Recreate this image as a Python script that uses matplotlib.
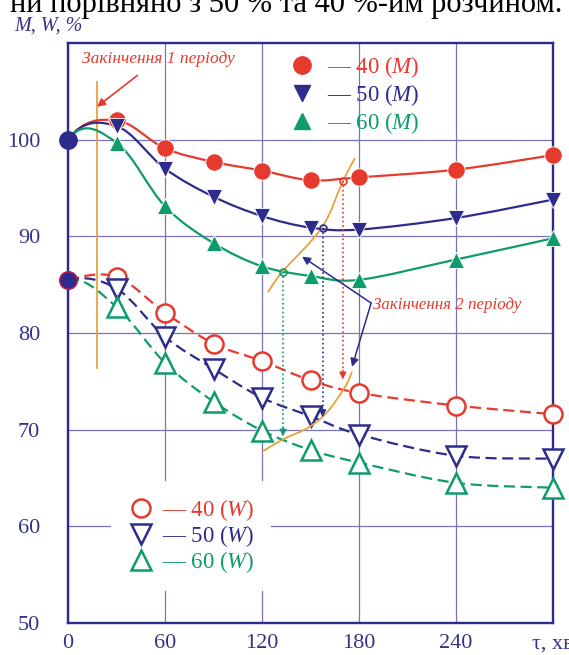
import matplotlib
matplotlib.use("Agg")
import matplotlib.pyplot as plt
from matplotlib.path import Path
from matplotlib.patches import PathPatch
from matplotlib.lines import Line2D

plt.rcParams['font.family'] = ['Liberation Serif', 'DejaVu Serif']
plt.rcParams['mathtext.fontset'] = 'custom'
plt.rcParams['mathtext.it'] = 'Liberation Serif:italic'
plt.rcParams['mathtext.rm'] = 'Liberation Serif'

# time, min
tau = [0, 30, 60, 90, 120, 150, 180, 240, 300]

# M curves (filled markers)
m40 = [100, 102.0, 99.1, 97.7, 96.8, 95.8, 96.1, 96.9, 98.4]
m50 = [100, 101.4, 97.0, 94.1, 92.1, 90.9, 90.7, 91.9, 93.8]
m60 = [100, 99.7, 93.1, 89.3, 86.9, 85.9, 85.5, 87.6, 89.8]

# W curves (open markers)
w40 = [85.5, 85.8, 82.1, 78.9, 77.1, 75.1, 73.8, 72.5, 71.6]
w50 = [85.5, 84.6, 79.6, 76.3, 73.3, 71.4, 69.5, 67.3, 67.0]
w60 = [85.5, 82.7, 76.9, 72.9, 69.9, 67.9, 66.6, 64.5, 64.0]

# end of period 2 (orange lines) and the projections
end2_upper_x = [123.7, 132.4, 157.0, 170.0, 177.5]
end2_upper_y = [84.2, 86.3, 90.9, 95.7, 98.1]
end2_lower_x = [120, 133, 148.5, 160.2, 171.3, 175.7]
end2_lower_y = [67.7, 69.0, 70.2, 71.8, 74.4, 76.0]
proj_x = [133, 157.5, 170]
proj_top = [86.3, 90.9, 95.7]
proj_bottom = [69.3, 71.3, 75.2]

xticks = [0, 60, 120, 180, 240, 300]
xlabels = ['0', '60', '120', '180', '240', 'τ, хв']
yticks = [50, 60, 70, 80, 90, 100]

RED = '#e63a2e'
NAVY = '#2d2c8c'
GREEN = '#0e9c6c'
ORANGE = '#e8a23c'
GRID = '#7774bb'
TXT = '#34338a'


def smooth(xs, ys, start=None):
    pts = list(zip(xs, ys))
    n = len(pts)
    verts = [pts[0]]
    codes = [Path.MOVETO]
    for i in range(n - 1):
        p0 = pts[i - 1] if i > 0 else pts[i]
        p1, p2 = pts[i], pts[i + 1]
        p3 = pts[i + 2] if i + 2 < n else pts[i + 1]
        c1 = (p1[0] + (p2[0] - p0[0]) / 6, p1[1] + (p2[1] - p0[1]) / 6)
        c2 = (p2[0] - (p3[0] - p1[0]) / 6, p2[1] - (p3[1] - p1[1]) / 6)
        if i == 0 and start is not None:
            c1 = (p1[0] + (p2[0] - p1[0]) / 3, p1[1] + start)
        verts += [c1, c2, p2]
        codes += [Path.CURVE4] * 3
    return Path(verts, codes)


fig = plt.figure(figsize=(5.69, 6.55), dpi=100)
ax = fig.add_axes([68 / 569, 1 - 623 / 655, 485 / 569, 580 / 655])
ax.set_xlim(0, 300)
ax.set_ylim(50, 110)

ax.set_xticks(xticks, xlabels)
ax.set_yticks(yticks)
ax.tick_params(length=0, labelsize=16, labelcolor=TXT)
ax.tick_params(axis='x', pad=8)
ax.tick_params(axis='y', pad=20)
ax.grid(True, color=GRID, lw=0.9)
ax.set_axisbelow(True)
for s in ax.spines.values():
    s.set_color(NAVY)
    s.set_linewidth(1.7)

# M curves
for vals, col, mk, ms in [(m40, RED, 'o', 12.5), (m50, NAVY, 'v', 11), (m60, GREEN, '^', 11)]:
    ax.add_patch(PathPatch(smooth(tau, vals, start=2.2), fill=False, ec=col, lw=1.6, zorder=3))
    ax.plot(tau[1:], vals[1:], ls='none', marker=mk, ms=ms, color=col, mec='white', mew=0.6,
            zorder=4, clip_on=False)

# W curves
for vals, col, mk, ms in [(w40, RED, 'o', 13), (w50, NAVY, 'v', 14), (w60, GREEN, '^', 14)]:
    ax.add_patch(PathPatch(smooth(tau, vals, start=0.4), fill=False, ec=col, lw=1.6,
                           ls=(0, (5, 2.5)), zorder=3))
    ax.plot(tau[1:], vals[1:], ls='none', marker=mk, ms=ms, mfc='white', mec=col, mew=1.8,
            zorder=4, clip_on=False)

# common starting points
ax.plot([0], [m40[0]], 'o', ms=12.5, color=NAVY, zorder=5, clip_on=False)
ax.plot([0], [w40[0]], 'o', ms=12.5, color=NAVY, mec='#b0204a', mew=1.2, zorder=5, clip_on=False)

# end of period 1
ax.plot([18, 18], [76.4, 106], color=ORANGE, lw=1.3, zorder=2)
ax.annotate('Закінчення 1 періоду', xy=(17.9, 103.4), xytext=(55.7, 108.3),
            color=RED, fontsize=12.5, style='italic', ha='center', va='center',
            arrowprops=dict(arrowstyle='-|>', color=RED, lw=1.2, shrinkA=6, shrinkB=0,
                            mutation_scale=12))

# end of period 2
ax.add_patch(PathPatch(smooth(end2_upper_x, end2_upper_y), fill=False, ec=ORANGE, lw=1.3, zorder=5))
ax.add_patch(PathPatch(smooth(end2_lower_x, end2_lower_y), fill=False, ec=ORANGE, lw=1.3, zorder=5))
for px, top, bot, col in zip(proj_x, proj_top, proj_bottom, [GREEN, NAVY, RED]):
    ax.plot([px, px], [top, bot + 0.8], ls=':', color=col, lw=1.2, zorder=5)
    ax.plot([px], [top], 'o', ms=5, mfc='none', mec=col, mew=1.2, zorder=6)
    ax.annotate('', xy=(px, bot), xytext=(px, bot + 1.0),
                arrowprops=dict(arrowstyle='-|>', color=col, lw=0.8, shrinkA=0, shrinkB=0,
                                mutation_scale=11), zorder=6)

ax.text(188.5, 82.9, 'Закінчення 2 періоду', color=RED, fontsize=12.2, style='italic',
        ha='left', va='center')
for tip in [(144.8, 87.9), (175.7, 76.5)]:
    ax.annotate('', xy=tip, xytext=(187.5, 83.1),
                arrowprops=dict(arrowstyle='-|>', color=NAVY, lw=1.1, shrinkA=0, shrinkB=0,
                                mutation_scale=12), zorder=6)

# legends
h_m = [Line2D([], [], ls='none', marker='o', ms=12.5, color=RED),
       Line2D([], [], ls='none', marker='v', ms=11, color=NAVY),
       Line2D([], [], ls='none', marker='^', ms=11, color=GREEN)]
leg1 = ax.legend(h_m, ['— 40 ($M$)', '— 50 ($M$)', '— 60 ($M$)'],
                 loc='upper left', bbox_to_anchor=(0.422, 1.008), frameon=False,
                 fontsize=16.5, labelcolor=[RED, NAVY, GREEN], handletextpad=0.45,
                 labelspacing=0.08, handlelength=1.2, borderpad=0.2)
ax.add_artist(leg1)
h_w = [Line2D([], [], ls='none', marker='o', ms=13, mfc='white', mec=RED, mew=1.8),
       Line2D([], [], ls='none', marker='v', ms=14, mfc='white', mec=NAVY, mew=1.8),
       Line2D([], [], ls='none', marker='^', ms=14, mfc='white', mec=GREEN, mew=1.8)]
leg2 = ax.legend(h_w, ['— 40 ($W$)', '— 50 ($W$)', '— 60 ($W$)'],
                 loc='upper left', bbox_to_anchor=(0.066, 0.265), frameon=True,
                 facecolor='white', edgecolor='none', framealpha=1, fancybox=False,
                 fontsize=16.5, labelcolor=[RED, NAVY, GREEN], handletextpad=0.3,
                 labelspacing=0.0, handlelength=1.2, borderpad=0.7)
leg2.set_zorder(7)

# axis title and the cut-off line of body text above the figure
fig.text(14 / 569, 1 - 26 / 655, 'M, W, %', color=TXT, fontsize=14.5, style='italic',
         ha='left', va='center')
fig.text(562 / 569, 1 - 12 / 655, 'ни порівняно з 50 % та 40 %-им розчином.', color='black',
         fontsize=22, ha='right', va='baseline')

fig.savefig('out.png', dpi=100)
